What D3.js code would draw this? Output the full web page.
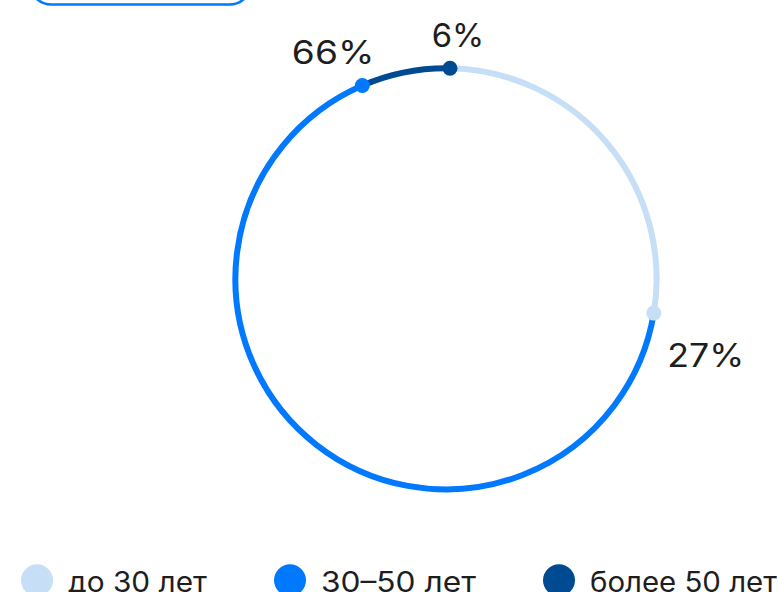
<!DOCTYPE html>
<html><head><meta charset="utf-8">
<script src="https://cdn.jsdelivr.net/npm/d3@7"></script>
<style>html,body{margin:0;padding:0;background:#fff;overflow:hidden}</style>
</head><body>
<div id="chart"></div>
<script>
// --- data ---
const categories = ["до 30 лет", "30–50 лет", "более 50 лет"];
const percentLabels = [27, 66, 6];          // shown percentages
const arcShares = [27.3, 65.9, 6.8];         // arc lengths as drawn
const colors = ["#c7dff6", "#0079fe", "#004a92"];

// --- layout ---
const W = 779, H = 592;
const cx = 446, cy = 278.8, R = 210.6;
const startAngle = 0.019;
const textColor = "#1e1e1e";
const font = "Inter, 'DejaVu Sans', sans-serif";

const svg = d3.select("#chart").append("svg").attr("width", W).attr("height", H);

// top button outline (partially visible)
svg.append("rect").attr("x", 29.5).attr("y", -39.5).attr("width", 222).attr("height", 44)
  .attr("rx", 22).attr("fill", "none").attr("stroke", "#0079fe").attr("stroke-width", 2.6);

const pie = d3.pie().sort(null).value(d => d.share)
  .startAngle(startAngle).endAngle(startAngle + 2 * Math.PI);
const data = categories.map((c, i) => ({cat: c, pct: percentLabels[i], share: arcShares[i], color: colors[i]}));
const arcs = pie(data);

const arcGen = d3.arc().innerRadius(R).outerRadius(R);
const g = svg.append("g").attr("transform", `translate(${cx},${cy})`);

g.selectAll("path.seg").data(arcs).join("path").attr("class", "seg")
  .attr("d", arcGen).attr("fill", "none")
  .attr("stroke", d => d.data.color).attr("stroke-width", 6);

const endPt = a => [R * Math.sin(a), -R * Math.cos(a)];
g.selectAll("circle.dot").data(arcs).join("circle").attr("class", "dot")
  .attr("cx", d => endPt(d.endAngle)[0]).attr("cy", d => endPt(d.endAngle)[1])
  .attr("r", 7.5).attr("fill", d => d.data.color);

// horizontally widen text to mimic the wide typeface of the original
function widen(sel, x, y, target) {
  const w = sel.node().getComputedTextLength();
  const s = target / w;
  sel.attr("x", 0).attr("y", 0).attr("transform", `translate(${x},${y}) scale(${s},1)`);
}

// label placement (layout): offsets from dot and rendered widths
const labelOffsets = [[52, 54], [-29.3, -21.7], [8, -21.7]];
const labelWidths = [77, 82.5, 52.5];
arcs.forEach((d, i) => {
  const p = endPt(d.endAngle);
  const t = g.append("text").attr("class", "pct")
    .attr("text-anchor", "middle")
    .attr("font-family", font)
    .attr("font-size", 32).attr("fill", textColor)
    .text(d.data.pct + "%");
  widen(t, p[0] + labelOffsets[i][0], p[1] + labelOffsets[i][1], labelWidths[i]);
});

// legend
const legendWidths = [139, 155, 187];
const lg = svg.append("g");
let x = 21;
data.forEach((d, i) => {
  const item = lg.append("g");
  item.append("circle").attr("cx", x + 16).attr("cy", 580.3).attr("r", 16).attr("fill", d.color);
  const t = item.append("text")
    .attr("font-family", font)
    .attr("font-size", 28).attr("fill", textColor)
    .text(d.cat);
  widen(t, x + 47, 592, legendWidths[i]);
  x = x + 47 + legendWidths[i] + 67;
});
</script>
</body></html>
